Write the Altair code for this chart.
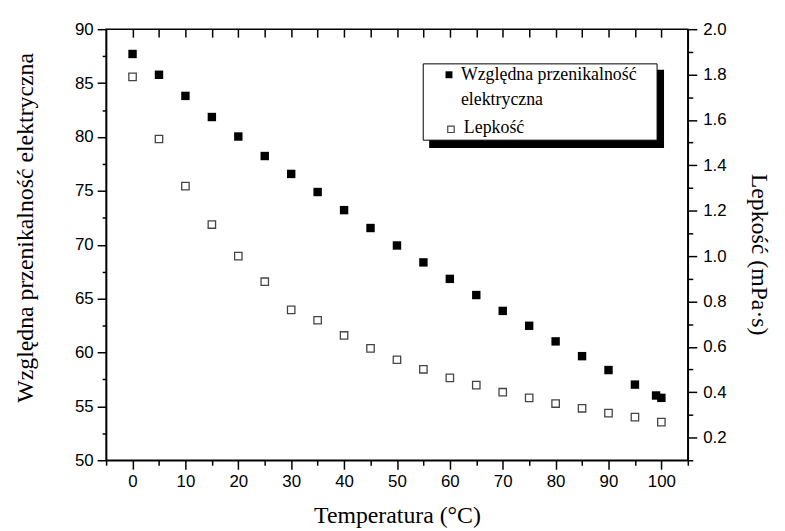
import altair as alt
import pandas as pd

# ---- data ----
temp_eps = [0, 5, 10, 15, 20, 25, 30, 35, 40, 45, 50, 55, 60, 65, 70, 75, 80, 85, 90, 95, 99, 100]
eps = [87.70, 85.77, 83.81, 81.85, 80.04, 78.23, 76.57, 74.89, 73.21, 71.55, 69.93,
       68.36, 66.83, 65.33, 63.86, 62.48, 61.03, 59.66, 58.37, 57.02, 56.01, 55.79]

temp_visc = [0, 5, 10, 15, 20, 25, 30, 35, 40, 45, 50, 55, 60, 65, 70, 75, 80, 85, 90, 95, 100]
visc = [1.790, 1.516, 1.308, 1.139, 1.000, 0.887, 0.763, 0.717, 0.650, 0.593, 0.543,
        0.501, 0.463, 0.431, 0.400, 0.375, 0.350, 0.329, 0.308, 0.290, 0.268]

x_ticks = [-5, 0, 5, 10, 15, 20, 25, 30, 35, 40, 45, 50, 55, 60, 65, 70, 75, 80, 85, 90, 95, 100, 105]
top_ticks = [0, 5, 10, 15, 20, 25, 30, 35, 40, 45, 50, 55, 60, 65, 70, 75, 80, 85, 90, 95, 100]
eps_ticks = [50, 52.5, 55, 57.5, 60, 62.5, 65, 67.5, 70, 72.5, 75, 77.5, 80, 82.5, 85, 87.5, 90]
visc_ticks = [0.1, 0.2, 0.3, 0.4, 0.5, 0.6, 0.7, 0.8, 0.9, 1.0,
              1.1, 1.2, 1.3, 1.4, 1.5, 1.6, 1.7, 1.8, 1.9, 2.0]

x_title = "Temperatura (°C)"
eps_title = "Względna przenikalność elektryczna"
visc_title = "Lepkość (mPa·s)"
legend_lines = ["Względna przenikalność", "elektryczna", "Lepkość"]

SERIF = "Liberation Serif"
SANS = "Liberation Sans"

df_eps = pd.DataFrame({"T": temp_eps, "eps": eps})
df_visc = pd.DataFrame({"T": temp_visc, "visc": visc})
one = pd.DataFrame({"k": [0]})

x_scale = alt.Scale(domain=[-5, 105], nice=False, zero=False)

eps_layer = alt.Chart(df_eps).mark_square(size=72, color="black", opacity=1).encode(
    x=alt.X("T:Q", scale=x_scale,
            axis=alt.Axis(orient="bottom", values=x_ticks, title=x_title,
                          labelExpr="datum.value % 10 === 0 ? format(datum.value, 'd') : ''",
                          tickSize={"condition": {"test": "datum.value % 10 === 0", "value": 9}, "value": 5},
                          labelPadding=4, titlePadding=15, labelFlush=False, labelOverlap=False)),
    y=alt.Y("eps:Q", scale=alt.Scale(domain=[50, 90], nice=False, zero=False),
            axis=alt.Axis(orient="left", values=eps_ticks, title=eps_title,
                          labelExpr="datum.value % 5 === 0 ? format(datum.value, 'd') : ''",
                          tickSize={"condition": {"test": "datum.value % 5 === 0", "value": 9}, "value": 4},
                          labelPadding=4, titlePadding=37, titleY=200,
                          labelFlush=False, labelOverlap=False)),
)

visc_layer = alt.Chart(df_visc).mark_square(size=56, filled=True, fill="white",
                                             stroke="#444444", strokeWidth=1.3, opacity=1).encode(
    x=alt.X("T:Q", scale=x_scale,
            axis=alt.Axis(orient="top", values=top_ticks, title=None, labels=False,
                          domain=False, tickSize=8, offset=-8)),
    y=alt.Y("visc:Q", scale=alt.Scale(domain=[0.1, 2.0], nice=False, zero=False),
            axis=alt.Axis(orient="right", values=visc_ticks, title=visc_title,
                          labelExpr="round(datum.value * 10) % 2 === 0 ? format(datum.value, '.1f') : ''",
                          tickSize={"condition": {"test": "round(datum.value * 10) % 2 === 0", "value": 9}, "value": 5},
                          labelPadding=6, titlePadding=21, titleY=227,
                          labelFlush=False, labelOverlap=False)),
)

# ---- legend box with drop shadow ----
shadow = alt.Chart(one).mark_rect(color="black").encode(
    x=alt.value(326), x2=alt.value(563), y=alt.value(41), y2=alt.value(120))
box = alt.Chart(one).mark_rect(fill="white", stroke="black", strokeWidth=1).encode(
    x=alt.value(320), x2=alt.value(556), y=alt.value(35), y2=alt.value(112))
sym1 = alt.Chart(one).mark_square(size=49, color="black", opacity=1).encode(
    x=alt.value(346), y=alt.value(46))
sym2 = alt.Chart(one).mark_square(size=42, filled=True, fill="white", stroke="#444444",
                                  strokeWidth=1.2, opacity=1).encode(
    x=alt.value(348), y=alt.value(101))
txt_kw = dict(align="left", baseline="middle", font=SERIF, fontSize=18, color="black")
txt1 = alt.Chart(one).mark_text(**txt_kw).encode(
    x=alt.value(358), y=alt.value(46), text=alt.value(legend_lines[0]))
txt2 = alt.Chart(one).mark_text(**txt_kw).encode(
    x=alt.value(358), y=alt.value(72), text=alt.value(legend_lines[1]))
txt3 = alt.Chart(one).mark_text(**txt_kw).encode(
    x=alt.value(361), y=alt.value(100), text=alt.value(legend_lines[2]))

chart = alt.layer(eps_layer, visc_layer, shadow, box, sym1, sym2, txt1, txt2, txt3).resolve_scale(
    y="independent"
).resolve_axis(
    x="independent", y="independent"
).properties(
    width=587, height=435,
    padding={"left": 99, "top": 19, "right": 90, "bottom": 68},
    autosize=alt.AutoSizeParams(type="none"),
).configure_view(
    stroke="black", strokeWidth=1.5
).configure_axis(
    grid=False, domainColor="black", domainWidth=1.5, tickColor="black", tickWidth=1.5,
    labelColor="black", labelFont=SANS, labelFontSize=17,
    titleColor="black", titleFont=SERIF, titleFontSize=24, titleFontWeight="normal",
)

chart.save("out.html", embed_options={"renderer": "svg", "actions": False})
